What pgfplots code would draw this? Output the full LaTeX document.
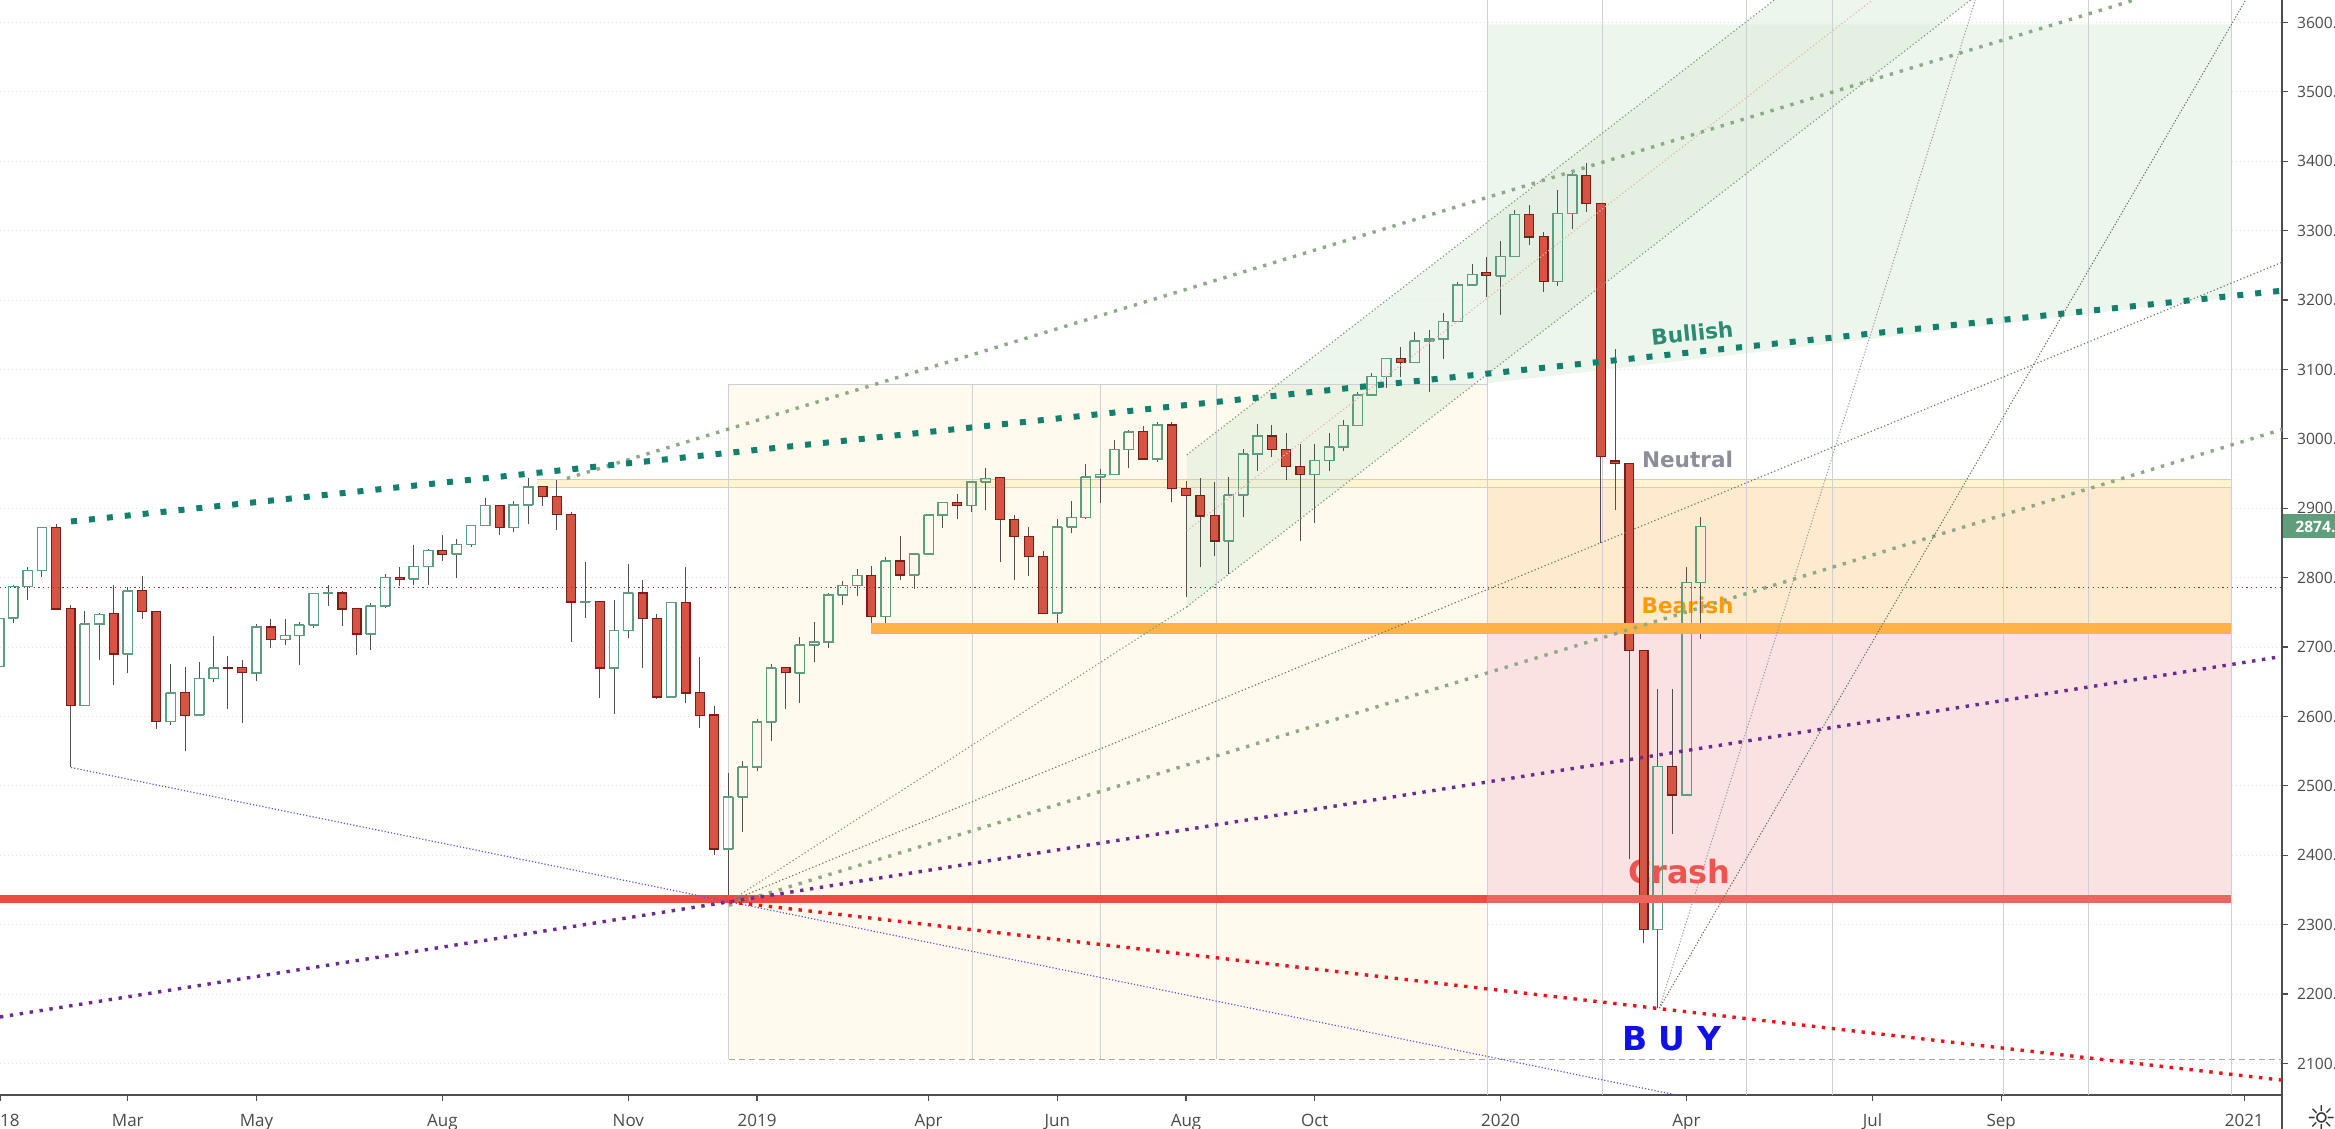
\documentclass[border=0pt]{standalone}
\usepackage{pgfplots}
\pgfplotsset{compat=1.18}
\usepackage{pgfplotstable}
\usepackage{fontspec}
\setmainfont{Open Sans}
\newfontfamily\dv{DejaVu Sans}

\definecolor{axc}{HTML}{4D4D4D}
\definecolor{labc}{HTML}{4A4A4A}
\definecolor{gridc}{HTML}{E4E4E4}
\definecolor{upc}{HTML}{5F9C80}
\definecolor{dnfill}{HTML}{D65443}
\definecolor{dnline}{HTML}{7A1F17}
\definecolor{wickc}{HTML}{505050}
\definecolor{yelbox}{HTML}{FFFAED}
\definecolor{yelband}{HTML}{FFF4CF}
\definecolor{bandline}{HTML}{D6CFB0}
\definecolor{orbox}{HTML}{FDEACF}
\definecolor{pinkbox}{HTML}{FAE2E2}
\definecolor{grbox}{HTML}{EDF6EC}
\definecolor{chan}{HTML}{DCEEDA}
\definecolor{vline}{HTML}{CDD1D6}
\definecolor{tealc}{HTML}{12806C}
\definecolor{olivec}{HTML}{8DAA88}
\definecolor{thinol}{HTML}{7E9C78}
\definecolor{purplec}{HTML}{6B2A93}
\definecolor{reddot}{HTML}{E8141A}
\definecolor{bluec}{HTML}{5858D8}
\definecolor{redline}{HTML}{F04A43}
\definecolor{redline2}{HTML}{F0645E}
\definecolor{orline}{HTML}{FFB347}
\definecolor{curc}{HTML}{8B3030}
\definecolor{pricegreen}{HTML}{5E9E7A}
\definecolor{bullc}{HTML}{2E8B73}
\definecolor{neutc}{HTML}{8E8E9A}
\definecolor{bearc}{HTML}{FF9A00}
\definecolor{crashc}{HTML}{EF5350}
\definecolor{buyc}{HTML}{1010E8}

\pgfplotstableread{
k O H L C
0 2672 2745 2668 2741
1 2742 2789 2734 2787
2 2787 2816 2768 2810
3 2810 2873 2801 2872
6 2616 2752 2616 2733
7 2733 2749 2681 2747
9 2690 2787 2662 2781
12 2593 2676 2588 2634
14 2602 2678 2602 2655
15 2655 2716 2650 2670
18 2663 2733 2651 2729
20 2711 2741 2703 2717
21 2717 2736 2674 2732
22 2732 2778 2727 2777
23 2777 2790 2759 2778
26 2719 2764 2696 2759
27 2759 2805 2757 2800
29 2798 2847 2789 2816
30 2816 2842 2789 2839
32 2834 2856 2800 2848
33 2848 2875 2844 2875
34 2875 2915 2875 2904
36 2872 2911 2866 2905
37 2905 2944 2877 2931
41 2765 2823 2742 2766
43 2670 2768 2603 2724
44 2724 2819 2713 2778
47 2628 2764 2628 2764
51 2409 2519 2338 2484
52 2484 2536 2434 2527
53 2527 2597 2521 2592
54 2592 2675 2564 2670
56 2663 2714 2620 2703
57 2703 2736 2678 2707
58 2707 2778 2698 2775
59 2775 2795 2761 2789
60 2789 2813 2773 2803
62 2744 2830 2735 2824
64 2804 2834 2784 2834
65 2834 2892 2834 2890
66 2890 2909 2871 2908
68 2904 2938 2894 2938
69 2938 2958 2897 2943
74 2749 2885 2727 2873
75 2873 2911 2864 2887
76 2887 2964 2884 2945
77 2945 2956 2908 2949
78 2949 2998 2949 2985
79 2985 3013 2958 3010
81 2971 3025 2967 3020
86 2853 2945 2806 2919
87 2919 2986 2888 2978
88 2978 3021 2954 3004
92 2949 2993 2879 2969
93 2969 3008 2953 2988
94 2988 3027 2982 3019
95 3019 3068 3019 3063
96 3063 3095 3063 3090
97 3090 3117 3074 3116
99 3110 3154 3110 3141
100 3141 3157 3068 3144
101 3144 3182 3115 3169
102 3169 3226 3169 3222
103 3222 3252 3220 3237
105 3235 3285 3179 3263
106 3263 3330 3263 3323
109 3227 3359 3221 3325
110 3325 3387 3302 3380
116 2293 2639 2180 2528
118 2487 2816 2487 2793
119 2793 2887 2712 2874
}\up

\pgfplotstableread{
k O H L C
4 2872 2878 2754 2755
5 2755 2760 2527 2616
8 2748 2789 2645 2690
10 2781 2802 2740 2751
11 2751 2752 2582 2593
13 2634 2671 2550 2602
16 2670 2687 2611 2669
17 2670 2682 2590 2663
19 2729 2741 2699 2711
24 2778 2781 2730 2755
25 2755 2755 2689 2719
28 2800 2816 2788 2798
31 2839 2861 2824 2834
35 2904 2904 2862 2872
38 2931 2932 2904 2917
39 2917 2941 2868 2891
40 2891 2895 2708 2765
42 2766 2766 2627 2670
45 2778 2796 2670 2741
46 2741 2748 2625 2628
48 2764 2816 2620 2634
49 2634 2686 2583 2602
50 2602 2615 2400 2409
55 2670 2671 2611 2663
61 2803 2817 2719 2744
63 2824 2860 2797 2804
67 2908 2920 2884 2904
70 2944 2944 2822 2884
71 2884 2890 2796 2859
72 2859 2873 2803 2830
73 2830 2838 2748 2749
80 3010 3018 2970 2971
82 3020 3024 2909 2928
83 2928 2940 2772 2918
84 2918 2943 2815 2889
85 2889 2938 2831 2853
89 3004 3020 2974 2985
90 2985 3008 2941 2960
91 2960 2992 2853 2949
98 3116 3132 3089 3110
104 3240 3262 3205 3235
107 3323 3337 3279 3291
108 3291 3298 3212 3227
111 3380 3397 3327 3339
112 3339 3339 2850 2975
113 2968 3130 2897 2965
114 2965 2965 2394 2695
115 2695 2695 2273 2293
117 2528 2639 2431 2487
}\dn

\pgfplotsset{
  eb/.style={draw=none, mark=none, forget plot, error bars/.cd, y dir=plus, y explicit, error mark=none},
  ebx/.style={draw=none, mark=none, forget plot, error bars/.cd, x dir=both, x fixed=0.355, error mark=none},
}

\begin{document}
\begin{tikzpicture}
\useasboundingbox (0,0) rectangle (1167.5pt,564.5pt);
\clip (0,0) rectangle (1167.5pt,564.5pt);
\begin{axis}[
  at={(0pt,17pt)}, anchor=south west,
  scale only axis, width=1141pt, height=547.5pt,
  xmin=0.063, xmax=159.64, ymin=2054.6, ymax=3632.4,
  axis x line*=bottom, axis y line*=right,
  axis line style={draw=axc, line width=1.1pt},
  xtick={0.07,9,18,31,44,53,65,74,83,92,105,118,131,140,157},
  xticklabels={\makebox[0pt][l]{18},Mar,May,Aug,Nov,2019,Apr,Jun,Aug,Oct,2020,Apr,Jul,Sep,2021},
  ytick={2100,2200,...,3600},
  /pgf/number format/assume math mode=true,
  yticklabel={\pgfmathprintnumber[fixed,fixed zerofill,precision=2,1000 sep={}]{\tick}},
  tick align=outside, major tick length=3pt,
  tick style={draw=axc, line width=0.6pt},
  xticklabel style={font=\fontsize{8.5}{10}\selectfont, text=labc, anchor=base, inner sep=0pt, yshift=-12.85pt},
  yticklabel style={font=\fontsize{7.8}{9}\selectfont, text=labc, anchor=west, inner sep=0pt, xshift=4.35pt},
  ymajorgrids, grid style={draw=gridc, line width=0.5pt, dash pattern=on 0.5pt off 1.5pt},
]
% ---------- zones ----------
\addplot[fill=yelbox, draw=none, forget plot] coordinates {(51.04,2106) (104.07,2106) (104.07,3078) (51.04,3078)} -- cycle;
\addplot[fill=grbox, draw=none, forget plot] coordinates {(104.07,3080) (156.08,3204) (156.08,3597.4) (104.07,3597.4)} -- cycle;
\addplot[fill=orbox, draw=none, forget plot] coordinates {(104.07,2727) (156.08,2727) (156.08,2941.8) (104.07,2941.8)} -- cycle;
\addplot[fill=pinkbox, draw=none, forget plot] coordinates {(104.07,2336.6) (156.08,2336.6) (156.08,2727) (104.07,2727)} -- cycle;
\addplot[fill=yelband, draw=none, forget plot] coordinates {(37.6,2929.7) (156.08,2929.7) (156.08,2941.8) (37.6,2941.8)} -- cycle;
\addplot[fill=chan, fill opacity=0.5, draw=none, forget plot] coordinates {(83.05,2758) (83.05,2977) (124.14,3632.4) (137.87,3632.4)} -- cycle;
% band and box edges
\addplot[bandline, line width=0.5pt, forget plot] coordinates {(37.6,2941.8) (156.08,2941.8)};
\addplot[bandline, line width=0.5pt, forget plot] coordinates {(37.6,2929.7) (156.08,2929.7)};
\addplot[vline, line width=0.5pt, forget plot] coordinates {(51.04,2106) (51.04,3078) (104.07,3078)};
\addplot[black!35, line width=0.6pt, dash pattern=on 3pt off 2pt, forget plot] coordinates {(51.04,2106) (159.64,2106)};
% vertical time lines
\foreach \v in {68.04,77.05,85.1}{
  \edef\tmp{\noexpand\addplot[vline, line width=0.5pt, forget plot] coordinates {(\v,2106) (\v,3078)};}\tmp
}
\foreach \v in {104.07,112.1,122.2,128.2,140.15,146.1,156.1}{
  \edef\tmp{\noexpand\addplot[vline, line width=0.5pt, forget plot] coordinates {(\v,2054.6) (\v,3632.4)};}\tmp
}
% ---------- labels (under candles) ----------
\node[font=\dv\bfseries\fontsize{10.8}{12}\selectfont, text=bullc, rotate=5.8] at (axis cs:118.4,3152.6) {Bullish};
\node[font=\dv\bfseries\fontsize{10.8}{12}\selectfont, text=neutc] at (axis cs:118.07,2970) {Neutral};
\node[font=\dv\bfseries\fontsize{10.8}{12}\selectfont, text=bearc] at (axis cs:118.07,2760) {Bearish};
\node[font=\dv\bfseries\fontsize{16}{18}\selectfont, text=crashc] at (axis cs:117.5,2377) {Crash};
\node[font=\dv\bfseries\fontsize{16.5}{18}\selectfont, text=buyc] at (axis cs:116.95,2135) {B U Y};
% ---------- candles: up (hollow) ----------
\addplot[eb, error bar style={draw=wickc, line width=0.5pt}] table[x=k, y=C, y error expr=\thisrow{H}-\thisrow{C}] {\up};
\addplot[eb, error bar style={draw=wickc, line width=0.5pt}] table[x=k, y=L, y error expr=\thisrow{O}-\thisrow{L}] {\up};
\addplot[eb, error bar style={draw=upc, line width=0.75pt}] table[x expr=\thisrow{k}-0.33, y expr=\thisrow{O}-0.5, y error expr=\thisrow{C}-\thisrow{O}+1] {\up};
\addplot[eb, error bar style={draw=upc, line width=0.75pt}] table[x expr=\thisrow{k}+0.33, y expr=\thisrow{O}-0.5, y error expr=\thisrow{C}-\thisrow{O}+1] {\up};
\addplot[ebx, error bar style={draw=upc, line width=0.75pt}] table[x=k, y=O] {\up};
\addplot[ebx, error bar style={draw=upc, line width=0.75pt}] table[x=k, y=C] {\up};
% ---------- candles: down (filled) ----------
\addplot[eb, error bar style={draw=wickc, line width=0.5pt}] table[x=k, y=O, y error expr=\thisrow{H}-\thisrow{O}] {\dn};
\addplot[eb, error bar style={draw=wickc, line width=0.5pt}] table[x=k, y=L, y error expr=\thisrow{C}-\thisrow{L}] {\dn};
\addplot[eb, error bar style={draw=dnline, line width=5pt}] table[x=k, y expr=\thisrow{C}-0.9, y error expr=\thisrow{O}-\thisrow{C}+1.8] {\dn};
\addplot[eb, error bar style={draw=dnfill, line width=3.8pt}] table[x=k, y expr=\thisrow{C}+0.8, y error expr={max(\thisrow{O}-\thisrow{C}-1.6,0)}] {\dn};
% ---------- drawn lines ----------
\addplot[curc, line width=0.6pt, dash pattern=on 0.6pt off 1.8pt, forget plot] coordinates {(0.063,2786) (159.64,2786)};
\addplot[orline, line width=5.3pt, forget plot] coordinates {(61.0,2727) (156.08,2727)};
\addplot[redline, line width=4.2pt, forget plot] coordinates {(0.063,2336.6) (104.07,2336.6)};
\addplot[redline2, line width=4.2pt, forget plot] coordinates {(104.07,2336.6) (156.08,2336.6)};
% channel lines
\addplot[thinol, line width=0.6pt, dash pattern=on 0.6pt off 1.2pt, forget plot] coordinates {(83.05,2977) (124.14,3632.4)};
\addplot[black!30!red!30, line width=0.6pt, dash pattern=on 0.6pt off 1.2pt, forget plot] coordinates {(83.05,2867.5) (131.0,3632.4)};
\addplot[thinol, line width=0.6pt, dash pattern=on 0.6pt off 1.2pt, forget plot] coordinates {(83.05,2758) (137.87,3632.4)};
% fan from Dec 2018 low
\addplot[thinol, line width=0.6pt, dash pattern=on 0.6pt off 1.2pt, forget plot] coordinates {(51.04,2333) (83.05,2758)};
\addplot[thinol!80!black, line width=0.6pt, dash pattern=on 0.6pt off 1.2pt, forget plot] coordinates {(51.04,2333) (159.64,3254.5)};
\addplot[olivec, line width=1.7pt, dash pattern=on 1.7pt off 3.5pt, forget plot] coordinates {(51.04,2328) (159.64,3013.5)};
\addplot[purplec, line width=1.7pt, dash pattern=on 1.7pt off 3.3pt, forget plot] coordinates {(0.063,2167) (159.64,2686.5)};
\addplot[reddot, line width=1.7pt, dash pattern=on 1.7pt off 3.3pt, forget plot] coordinates {(51.04,2333) (159.64,2076)};
\addplot[bluec, line width=0.6pt, dash pattern=on 0.6pt off 1pt, forget plot] coordinates {(5.03,2526.5) (117.3,2054.6)};
% upper lines
\addplot[olivec, line width=1.7pt, dash pattern=on 1.7pt off 3.5pt, forget plot] coordinates {(39.7,2943) (149.3,3632.4)};
\addplot[tealc, line width=3pt, dash pattern=on 3pt off 6pt, forget plot] coordinates {(5.03,2881) (159.64,3213.5)};
% lines from the March 2020 low
\addplot[gray!80, line width=0.5pt, dash pattern=on 0.6pt off 0.9pt, forget plot] coordinates {(116.1,2179.7) (138.2,3632.4)};
\addplot[thinol!70!black, line width=0.5pt, dash pattern=on 0.6pt off 0.9pt, forget plot] coordinates {(116.1,2179.7) (157.1,3632.4)};
\end{axis}
% right axis continuation and price marker
\draw[axc, line width=1.1pt] (1141pt,0pt) -- (1141pt,17pt);
\fill[pricegreen] (1141.5pt,295.25pt) rectangle (1170pt,307.25pt);
\node[anchor=west, inner sep=0pt, text=white, font=\bfseries\fontsize{7.8}{9}\selectfont] at (1147.5pt,301.25pt) {2874.56};
\node[font=\dv\fontsize{17}{17}\selectfont, text=black!80] at (1160.85pt,5.6pt) {☼};
\end{tikzpicture}
\end{document}
